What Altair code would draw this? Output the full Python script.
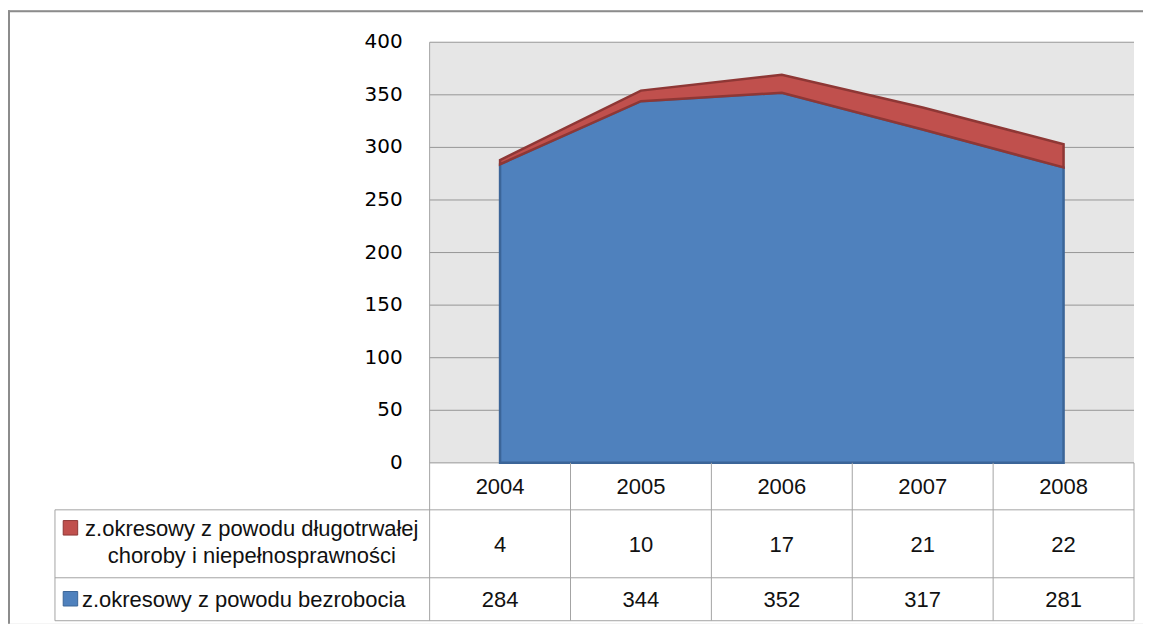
import altair as alt
import pandas as pd

# ---------------- data ----------------
years = ["2004", "2005", "2006", "2007", "2008"]
bezrobocie = [284, 344, 352, 317, 281]
choroba = [4, 10, 17, 21, 22]
label_choroba = ["z.okresowy z powodu długotrwałej", "choroby i niepełnosprawności"]
label_bezrobocie = "z.okresowy z powodu bezrobocia"
y_ticks = [0, 50, 100, 150, 200, 250, 300, 350, 400]

# ---------------- colours ----------------
BLUE = "#4f81bd"
BLUE_EDGE = "#3b6598"
RED = "#c0504d"
RED_EDGE = "#8e3735"
PLOT_BG = "#e6e6e6"
GRID = "#969696"
TABLE_LINE = "#a4a4a4"
FRAME = "#8c8c8c"
TEXT = "#111111"

# ---------------- layout (page pixels) ----------------
VIEW_LEFT, VIEW_TOP = 8, 10
W, H = 1136, 614
PLOT_LEFT = 430
COL_W = 141
ZERO_Y = 463
PX_PER_UNIT = (463 - 42) / 400.0
TABLE_LEFT = 55
ROW_EDGES_PX = [463, 510, 578, 621]
YLABEL_RIGHT = 403


def ux(px):
    return (px - PLOT_LEFT) / COL_W


def uy(px):
    return (ZERO_Y - px) / PX_PER_UNIT


X_SCALE = alt.Scale(domain=[ux(VIEW_LEFT), ux(VIEW_LEFT + W)], nice=False, zero=False)
Y_SCALE = alt.Scale(domain=[uy(VIEW_TOP + H), uy(VIEW_TOP)], nice=False, zero=False)

n = len(years)
ymax = max(y_ticks)


def X(field):
    return alt.X(field, type="quantitative", scale=X_SCALE, axis=None)


def Y(field):
    return alt.Y(field, type="quantitative", scale=Y_SCALE, axis=None)


# ---------------- background ----------------
bg_df = pd.DataFrame([{"x": 0, "x2": n, "y": 0, "y2": ymax}])
background = alt.Chart(bg_df).mark_rect(color=PLOT_BG).encode(
    x=X("x"), x2="x2", y=Y("y"), y2="y2"
)

# ---------------- y tick labels ----------------
ylab_df = pd.DataFrame({"y": y_ticks, "text": [str(t) for t in y_ticks], "x": [ux(YLABEL_RIGHT)] * len(y_ticks)})
ylabels = alt.Chart(ylab_df).mark_text(
    font="DejaVu Sans", fontSize=20, color="#000000", align="right", baseline="middle"
).encode(x=X("x"), y=Y("y"), text="text:N")

# ---------------- gridlines ----------------
grid_df = pd.DataFrame([{"x": 0, "x2": n, "y": t, "y2": t} for t in y_ticks])
grid = alt.Chart(grid_df).mark_rule(color=GRID, strokeWidth=1).encode(
    x=X("x"), x2="x2", y=Y("y"), y2="y2"
)

# ---------------- areas ----------------
df = pd.DataFrame({"year": years, "col": list(range(n)), "blue": bezrobocie, "red": choroba})
base = alt.Chart(df).transform_calculate(
    xc="datum.col + 0.5", top="datum.blue + datum.red", zero="0"
)
area_blue = base.mark_area(color=BLUE, stroke=BLUE_EDGE, strokeWidth=2.5, opacity=1).encode(
    x=X("xc"), y=Y("blue"), y2="zero:Q"
)
area_red = base.mark_area(color=RED, stroke=RED_EDGE, strokeWidth=2.5, opacity=1).encode(
    x=X("xc"), y=Y("top"), y2="blue:Q"
)

# ---------------- table lines ----------------
rows = [uy(p) for p in ROW_EDGES_PX]
segs = []
for r in rows[1:]:
    segs.append({"x": ux(TABLE_LEFT), "x2": n, "y": r, "y2": r})
for c in range(1, n + 1):
    segs.append({"x": c, "x2": c, "y": rows[0], "y2": rows[-1]})
segs.append({"x": ux(TABLE_LEFT), "x2": ux(TABLE_LEFT), "y": rows[1], "y2": rows[-1]})
segs.append({"x": 0, "x2": 0, "y": ymax, "y2": rows[-1]})
table_lines = alt.Chart(pd.DataFrame(segs)).mark_rule(color=TABLE_LINE, strokeWidth=1).encode(
    x=X("x"), x2="x2", y=Y("y"), y2="y2"
)

# ---------------- frame ----------------
frame_df = pd.DataFrame([
    {"x": ux(9), "x2": ux(9), "y": uy(10), "y2": uy(VIEW_TOP + H)},
    {"x": ux(8), "x2": ux(VIEW_LEFT + W), "y": uy(11), "y2": uy(11)},
])
frame = alt.Chart(frame_df).mark_rule(color=FRAME, strokeWidth=2).encode(
    x=X("x"), x2="x2", y=Y("y"), y2="y2"
)

# ---------------- table text ----------------
FONT = "Liberation Sans"
FS = 22

header_df = pd.DataFrame({"text": years, "x": [i + 0.5 for i in range(n)], "y": [uy(494)] * n})
vals = []
for i in range(n):
    vals.append({"text": str(choroba[i]), "x": i + 0.5, "y": uy(552)})
    vals.append({"text": str(bezrobocie[i]), "x": i + 0.5, "y": uy(607)})
cells_df = pd.concat([header_df, pd.DataFrame(vals)], ignore_index=True)
cells = alt.Chart(cells_df).mark_text(
    font=FONT, fontSize=FS, color=TEXT, align="center", baseline="alphabetic"
).encode(x=X("x"), y=Y("y"), text="text:N")

lab1_df = pd.DataFrame({"text": label_choroba, "x": [ux(252)] * 2, "y": [uy(536), uy(563)]})
lab1 = alt.Chart(lab1_df).mark_text(
    font=FONT, fontSize=FS, color=TEXT, align="center", baseline="alphabetic"
).encode(x=X("x"), y=Y("y"), text="text:N")

lab2_df = pd.DataFrame({"text": [label_bezrobocie], "x": [ux(82)], "y": [uy(607)]})
lab2 = alt.Chart(lab2_df).mark_text(
    font=FONT, fontSize=FS, color=TEXT, align="left", baseline="alphabetic"
).encode(x=X("x"), y=Y("y"), text="text:N")

sq_df = pd.DataFrame({
    "series": ["choroba", "bezrobocie"],
    "x": [ux(70.5), ux(70.5)],
    "y": [uy(528), uy(599)],
})
squares = alt.Chart(sq_df).mark_point(
    shape="square", size=210, filled=True, opacity=1, strokeWidth=1
).encode(
    x=X("x"), y=Y("y"),
    fill=alt.Fill("series:N", scale=alt.Scale(domain=["choroba", "bezrobocie"], range=[RED, BLUE]), legend=None),
    stroke=alt.Stroke("series:N", scale=alt.Scale(domain=["choroba", "bezrobocie"], range=[RED_EDGE, BLUE_EDGE]), legend=None),
)

chart = alt.layer(
    background, grid, area_blue, area_red, table_lines, ylabels, cells, lab1, lab2, squares, frame
).properties(
    width=W, height=H,
    autosize=alt.AutoSizeParams(type="none"),
    padding={"left": 0, "top": 2, "right": 0, "bottom": 0},
).configure_view(strokeWidth=0).configure(background="white")

chart.save("out.html", embed_options={"renderer": "svg", "actions": False})
